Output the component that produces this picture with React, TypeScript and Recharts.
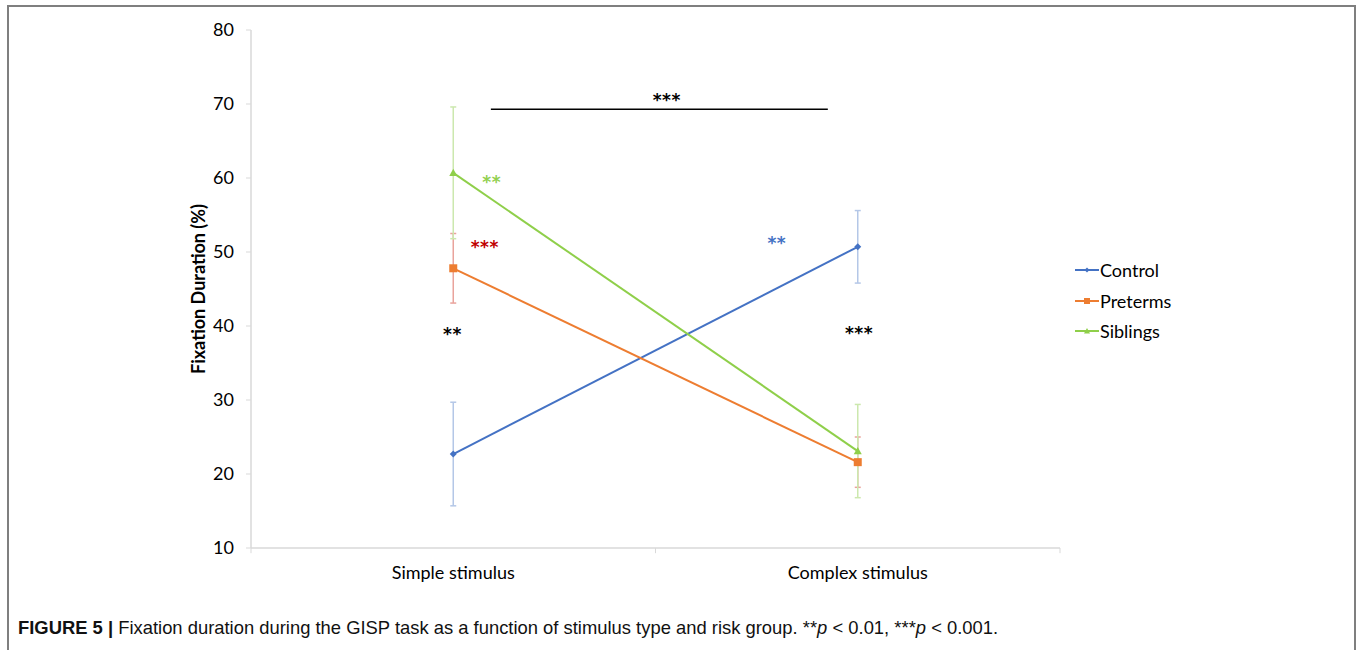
import React from "react";
import {
  ComposedChart,
  Line,
  XAxis,
  YAxis,
  ErrorBar,
  ReferenceLine,
  ReferenceDot,
} from "recharts";

const categories = ["Simple stimulus", "Complex stimulus"];
const control = [22.7, 50.7];
const controlErr = [7.0, 4.9];
const preterms = [47.8, 21.6];
const pretermsErr = [4.7, 3.4];
const siblings = [60.7, 23.1];
const siblingsErr = [8.9, 6.3];
const yTicks = [10, 20, 30, 40, 50, 60, 70, 80];

// boundaries between categories on the 0..2 axis (Excel-style tick marks)
const bandEdges = [0, 1, 2];

// significance marks, placed in axis units
const stars = [
  { text: "***", x: 1.028, y: 71.1, color: "#000000" },
  { text: "**", x: 0.595, y: 60.0, color: "#92d050" },
  { text: "***", x: 0.578, y: 51.2, color: "#c00000" },
  { text: "**", x: 0.498, y: 39.5, color: "#000000" },
  { text: "**", x: 1.3, y: 51.7, color: "#4472c4" },
  { text: "***", x: 1.503, y: 39.55, color: "#000000" },
];
const bracket = { x1: 0.593, x2: 1.426, y: 69.3 };

const series = [
  { key: "control", name: "Control", color: "#4472c4", err: "#b4c7e7", shape: "diamond" },
  { key: "preterms", name: "Preterms", color: "#ed7d31", err: "#e9a39c", shape: "square" },
  { key: "siblings", name: "Siblings", color: "#8fcf4a", err: "#cce8ae", shape: "triangle" },
];

const data = categories.map((name, i) => ({
  pos: i + 0.5,
  name,
  control: control[i],
  controlErr: controlErr[i],
  preterms: preterms[i],
  pretermsErr: pretermsErr[i],
  siblings: siblings[i],
  siblingsErr: siblingsErr[i],
}));

function marker(shape: string, color: string, cx: number, cy: number, s: number) {
  if (shape === "diamond") {
    return <path d={`M${cx},${cy - s}L${cx + s},${cy}L${cx},${cy + s}L${cx - s},${cy}Z`} fill={color} />;
  }
  if (shape === "square") {
    return <rect x={cx - s} y={cy - s} width={s * 2} height={s * 2} fill={color} />;
  }
  return <path d={`M${cx},${cy - s}L${cx + s},${cy + s * 0.8}L${cx - s},${cy + s * 0.8}Z`} fill={color} />;
}

function makeDot(shape: string, color: string) {
  const size = shape === "diamond" ? 3.5 : 4;
  return (props: any) => (
    <g key={`${shape}-${props.index}`}>{marker(shape, color, props.cx, props.cy, size)}</g>
  );
}

function LegendBox() {
  return (
    <div style={{ fontFamily: "Lato", fontSize: 18, color: "#000" }}>
      {series.map((s) => (
        <div key={s.key} style={{ display: "flex", alignItems: "center", height: 30.5 }}>
          <svg width={24} height={10} style={{ marginRight: 1 }}>
            <line x1={0} y1={5} x2={24} y2={5} stroke={s.color} strokeWidth={2} />
            {marker(s.shape, s.color, 12, 5, s.shape === "diamond" ? 2.5 : 3)}
          </svg>
          <span>{s.name}</span>
        </div>
      ))}
    </div>
  );
}

export default function App() {
  return (
    <div
      style={{
        position: "absolute",
        left: 0,
        top: 0,
        width: 1357,
        height: 650,
        overflow: "hidden",
        background: "#fff",
        fontFamily: "Lato",
      }}
    >
      <div
        style={{
          position: "absolute",
          left: 7,
          top: 5,
          width: 1349,
          height: 700,
          border: "2px solid #7f7f7f",
          boxSizing: "border-box",
        }}
      />
      <div style={{ position: "absolute", left: 0, top: 0 }}>
        <ComposedChart
          width={1357}
          height={600}
          data={data}
          margin={{ top: 30, right: 297, left: 191, bottom: 22 }}
        >
          <XAxis
            dataKey="pos"
            type="number"
            domain={[0, 2]}
            ticks={[0.5, 1.5]}
            interval={0}
            tickFormatter={(v: number) => categories[Math.floor(v)]}
            tickLine={false}
            tickSize={0}
            tickMargin={18}
            height={30}
            axisLine={{ stroke: "#d9d9d9", strokeWidth: 1.5 }}
            tick={{ fill: "#000", fontSize: 18 }}
          />
          <YAxis
            domain={[10, 80]}
            ticks={yTicks}
            interval={0}
            width={60}
            tickSize={5}
            tickMargin={12}
            axisLine={{ stroke: "#d9d9d9", strokeWidth: 1.5 }}
            tickLine={{ stroke: "#d9d9d9" }}
            tick={{ fill: "#000", fontSize: 18 }}
            label={{
              value: "Fixation Duration (%)",
              angle: -90,
              position: "insideLeft",
              offset: 8,
              style: { fontSize: 18, fontWeight: 700, fill: "#000", textAnchor: "middle" },
            }}
          />
          {bandEdges.map((e) => (
            <ReferenceLine
              key={e}
              segment={[
                { x: e, y: 10 },
                { x: e, y: 9.3 },
              ]}
              stroke="#d9d9d9"
              ifOverflow="visible"
            />
          ))}
          {series.map((s) => (
            <Line
              key={s.key}
              dataKey={s.key}
              name={s.name}
              type="linear"
              stroke={s.color}
              strokeWidth={2}
              dot={makeDot(s.shape, s.color)}
              activeDot={false}
              isAnimationActive={false}
            >
              <ErrorBar
                dataKey={`${s.key}Err`}
                direction="y"
                width={3}
                stroke={s.err}
                strokeWidth={1.5}
                isAnimationActive={false}
              />
            </Line>
          ))}
          <ReferenceLine
            segment={[
              { x: bracket.x1, y: bracket.y },
              { x: bracket.x2, y: bracket.y },
            ]}
            stroke="#000"
            strokeWidth={1.5}
          />
          {stars.map((s, i) => (
            <ReferenceDot
              key={i}
              x={s.x}
              y={s.y}
              r={0}
              fill="none"
              stroke="none"
              label={{
                value: s.text,
                position: "center",
                fill: s.color,
                fontSize: 17,
                fontWeight: 700,
                fontFamily: "DejaVu Sans",
                letterSpacing: 0.5,
                dy: 4,
              }}
            />
          ))}
        </ComposedChart>
      </div>
      <div style={{ position: "absolute", left: 1075, top: 255 }}>
        <LegendBox />
      </div>
      <div
        style={{
          position: "absolute",
          left: 18,
          top: 617,
          fontFamily: "Liberation Sans",
          fontSize: 18.4,
          color: "#111",
          whiteSpace: "nowrap",
        }}
      >
        <b>FIGURE 5 |</b> Fixation duration during the GISP task as a function of stimulus type and risk group.{" "}
        **<i>p</i> &lt; 0.01, ***<i>p</i> &lt; 0.001.
      </div>
    </div>
  );
}
